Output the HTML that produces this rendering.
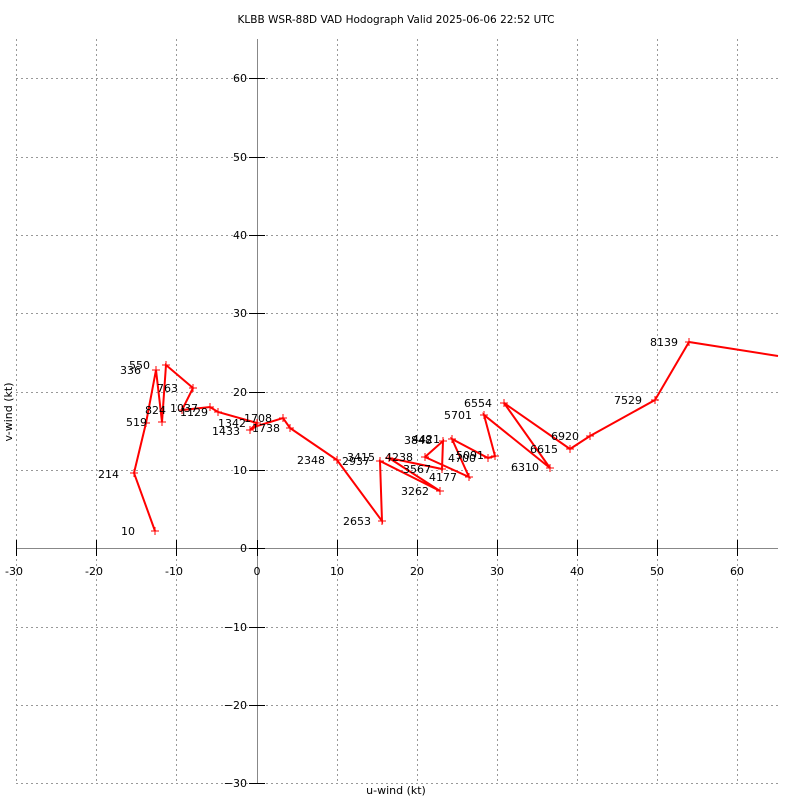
<!DOCTYPE html><html><head><style>body{margin:0;background:#fff}svg text{font-family:"DejaVu Sans","Liberation Sans",sans-serif;font-size:11px;fill:#000}</style></head><body>
<svg width="800" height="800" xmlns="http://www.w3.org/2000/svg">
<rect width="800" height="800" fill="#fff"/>
<text x="396" y="23" text-anchor="middle" style="font-size:10.5px">KLBB WSR-88D VAD Hodograph Valid 2025-06-06 22:52 UTC</text>
<g stroke="#999" stroke-dasharray="2,3" stroke-width="1">
<line x1="16.5" y1="39" x2="16.5" y2="783"/><line x1="96.5" y1="39" x2="96.5" y2="783"/><line x1="176.5" y1="39" x2="176.5" y2="783"/><line x1="337.5" y1="39" x2="337.5" y2="783"/><line x1="417.5" y1="39" x2="417.5" y2="783"/><line x1="497.5" y1="39" x2="497.5" y2="783"/><line x1="577.5" y1="39" x2="577.5" y2="783"/><line x1="657.5" y1="39" x2="657.5" y2="783"/><line x1="737.5" y1="39" x2="737.5" y2="783"/>
<line x1="16" y1="78.5" x2="778" y2="78.5"/><line x1="16" y1="157.5" x2="778" y2="157.5"/><line x1="16" y1="235.5" x2="778" y2="235.5"/><line x1="16" y1="313.5" x2="778" y2="313.5"/><line x1="16" y1="392.5" x2="778" y2="392.5"/><line x1="16" y1="470.5" x2="778" y2="470.5"/><line x1="16" y1="627.5" x2="778" y2="627.5"/><line x1="16" y1="705.5" x2="778" y2="705.5"/><line x1="16" y1="783.5" x2="778" y2="783.5"/>
</g>
<g stroke="#888"><line x1="257.5" y1="39" x2="257.5" y2="783"/><line x1="16" y1="548.5" x2="778" y2="548.5"/></g>
<g stroke="#000">
<line x1="16.5" y1="540" x2="16.5" y2="556"/><line x1="96.5" y1="540" x2="96.5" y2="556"/><line x1="176.5" y1="540" x2="176.5" y2="556"/><line x1="257.5" y1="540" x2="257.5" y2="556"/><line x1="337.5" y1="540" x2="337.5" y2="556"/><line x1="417.5" y1="540" x2="417.5" y2="556"/><line x1="497.5" y1="540" x2="497.5" y2="556"/><line x1="577.5" y1="540" x2="577.5" y2="556"/><line x1="657.5" y1="540" x2="657.5" y2="556"/><line x1="737.5" y1="540" x2="737.5" y2="556"/>
<line x1="249" y1="78.5" x2="265" y2="78.5"/><line x1="249" y1="157.5" x2="265" y2="157.5"/><line x1="249" y1="235.5" x2="265" y2="235.5"/><line x1="249" y1="313.5" x2="265" y2="313.5"/><line x1="249" y1="392.5" x2="265" y2="392.5"/><line x1="249" y1="470.5" x2="265" y2="470.5"/><line x1="249" y1="548.5" x2="265" y2="548.5"/><line x1="249" y1="627.5" x2="265" y2="627.5"/><line x1="249" y1="705.5" x2="265" y2="705.5"/><line x1="249" y1="783.5" x2="265" y2="783.5"/>
</g>
<g text-anchor="middle">
<text x="14" y="575">-30</text><text x="94" y="575">-20</text><text x="174" y="575">-10</text><text x="257" y="575">0</text><text x="337" y="575">10</text><text x="417" y="575">20</text><text x="497" y="575">30</text><text x="577" y="575">40</text><text x="657" y="575">50</text><text x="737" y="575">60</text>
</g>
<g text-anchor="end">
<text x="247" y="82">60</text><text x="247" y="161">50</text><text x="247" y="239">40</text><text x="247" y="317">30</text><text x="247" y="396">20</text><text x="247" y="474">10</text><text x="247" y="552">0</text><text x="247" y="631">−10</text><text x="247" y="709">−20</text><text x="247" y="787">−30</text>
</g>
<text x="396" y="794" text-anchor="middle">u-wind (kt)</text>
<text transform="translate(12,412) rotate(-90)" text-anchor="middle">v-wind (kt)</text>
<polyline fill="none" stroke="#f00" stroke-width="2" points="155,531 134,473 146,423 156,370 162,422 166,365 193,388 182,410 210,407 218,412 257,423 250,430 257,426 283,418 290,428 337,460 382,521 380,461 440,491 389,458 442,469 443,441 425,457 469,477 452,439 488,458 495,456 484,415 550,468 504,403 570,449 590,436 655,400 689,342 778,356"/>
<g stroke="#f00" stroke-width="1">
<path d="M151 531h8M155 527v8 M130 473h8M134 469v8 M142 423h8M146 419v8 M152 370h8M156 366v8 M158 422h8M162 418v8 M162 365h8M166 361v8 M189 388h8M193 384v8 M178 410h8M182 406v8 M206 407h8M210 403v8 M214 412h8M218 408v8 M253 423h8M257 419v8 M246 430h8M250 426v8 M279 418h8M283 414v8 M286 428h8M290 424v8 M333 460h8M337 456v8 M378 521h8M382 517v8 M376 461h8M380 457v8 M436 491h8M440 487v8 M385 458h8M389 454v8 M438 469h8M442 465v8 M439 441h8M443 437v8 M421 457h8M425 453v8 M465 477h8M469 473v8 M448 439h8M452 435v8 M484 458h8M488 454v8 M491 456h8M495 452v8 M480 415h8M484 411v8 M546 468h8M550 464v8 M500 403h8M504 399v8 M566 449h8M570 445v8 M586 436h8M590 432v8 M651 400h8M655 396v8 M685 342h8M689 338v8"/>
</g>
<g text-anchor="end">
<text x="135" y="535">10</text><text x="119" y="478">214</text><text x="147" y="426">519</text><text x="141" y="374">336</text><text x="150" y="369">550</text><text x="178" y="392">763</text><text x="166" y="414">824</text><text x="198" y="412">1037</text><text x="208" y="416">1129</text><text x="246" y="427">1342</text><text x="240" y="435">1433</text><text x="272" y="422">1708</text><text x="280" y="432">1738</text><text x="325" y="464">2348</text><text x="370" y="465">2937</text><text x="371" y="525">2653</text><text x="375" y="461">3415</text><text x="413" y="461">4238</text><text x="429" y="495">3262</text><text x="431" y="473">3567</text><text x="432" y="444">3848</text><text x="440" y="443">4421</text><text x="457" y="481">4177</text><text x="476" y="462">4700</text><text x="484" y="459">5091</text><text x="472" y="419">5701</text><text x="492" y="407">6554</text><text x="539" y="471">6310</text><text x="558" y="453">6615</text><text x="579" y="440">6920</text><text x="642" y="404">7529</text><text x="678" y="346">8139</text>
</g>
</svg></body></html>
